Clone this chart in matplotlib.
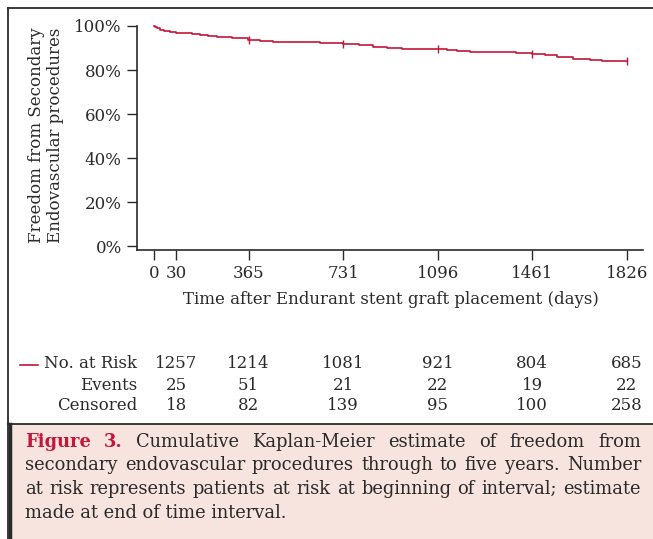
import matplotlib
matplotlib.use("Agg")
import matplotlib.pyplot as plt
from matplotlib.lines import Line2D
from matplotlib.patches import Rectangle
import matplotlib.transforms as mtransforms

# Kaplan-Meier estimate (days, % free from secondary procedures)
km_days = [0, 5, 12, 23, 40, 62, 85, 112, 145, 178, 210, 243, 300, 363, 410, 460,
           520, 641, 690, 730, 790, 846, 900, 958, 1030, 1097, 1130, 1170, 1220,
           1271, 1400, 1460, 1510, 1557, 1620, 1684, 1730, 1826]
km_surv = [100, 99.6, 99.0, 98.2, 97.8, 97.3, 97.0, 96.7, 96.3, 95.9, 95.5, 95.2,
           94.4, 93.6, 93.2, 92.9, 92.6, 92.4, 92.1, 91.8, 91.2, 90.6, 90.1, 89.7,
           89.5, 89.4, 89.0, 88.6, 88.3, 88.0, 87.8, 87.3, 86.6, 85.8, 85.2, 84.5,
           84.1, 84.1]
censor_days = [365, 731, 1096, 1461, 1826]
censor_surv = [93.6, 91.8, 89.4, 87.3, 84.1]

# x ticks: the "30" tick sits a little right of its true spot in the original
tick_pos = [0, 85, 365, 731, 1096, 1461, 1826]
tick_labels = ["0", "30", "365", "731", "1096", "1461", "1826"]
y_ticks = [0, 20, 40, 60, 80, 100]

# number-at-risk table
table_cols = [85, 365, 731, 1096, 1461, 1826]
row_names = ["No. at Risk", "Events", "Censored"]
at_risk = [1257, 1214, 1081, 921, 804, 685]
events = [25, 51, 21, 22, 19, 22]
censored = [18, 82, 139, 95, 100, 258]

caption_lines = [
    "Cumulative Kaplan-Meier estimate of freedom from",
    "secondary endovascular procedures through to five years. Number",
    "at risk represents patients at risk at beginning of interval; estimate",
    "made at end of time interval.",
]

RED = "#c3173b"
INK = "#2a2a2a"
W, H = 653, 539
plt.rcParams["font.family"] = ["DejaVu Serif"]

fig = plt.figure(figsize=(W / 100, H / 100), dpi=100)
fig.patch.set_facecolor("white")

ax = fig.add_axes([137 / W, 1 - 250 / H, (643 - 137) / W, (250 - 26) / H])
ax.step(km_days, km_surv, where="post", color=RED, lw=1.2, clip_on=False)
ax.plot(censor_days, censor_surv, ls="none", marker="|", ms=6, mew=1.0, color=RED,
        clip_on=False)

ax.set_xlim(-66, 1889)
ax.set_ylim(-1.8, 100)
ax.set_xticks(tick_pos)
ax.set_xticklabels(tick_labels)
ax.set_yticks(y_ticks)
ax.set_yticklabels([f"{v}%" for v in y_ticks])
for s in ["top", "right"]:
    ax.spines[s].set_visible(False)
for s in ["left", "bottom"]:
    ax.spines[s].set_color(INK)
    ax.spines[s].set_linewidth(1.2)
ax.tick_params(direction="out", length=7, width=1.0, color=INK, labelsize=12,
               labelcolor=INK, pad=4)

fig.text(46 / W, 1 - 135 / H, "Freedom from Secondary\nEndovascular procedures",
         rotation=90, ha="center", va="center", fontsize=12, color=INK,
         multialignment="center", linespacing=1.15)
fig.text(391 / W, 1 - 300 / H, "Time after Endurant stent graft placement (days)",
         ha="center", va="center", fontsize=12, color=INK)

# risk table under the axis
trans = mtransforms.blended_transform_factory(ax.transData, fig.transFigure)
rows = [at_risk, events, censored]
row_y = [363, 385, 406]
for name, vals, yy in zip(row_names, rows, row_y):
    fy = 1 - yy / H
    fig.text(137 / W, fy, name, ha="right", va="center", fontsize=12, color=INK)
    for xc, v in zip(table_cols, vals):
        fig.text(xc, fy, str(v), ha="center", va="center", fontsize=12, color=INK,
                 transform=trans)
fig.add_artist(Line2D([20 / W, 38 / W], [1 - 365 / H] * 2, color=RED, lw=1.2,
                      transform=fig.transFigure))

# outer frame and caption box
fig.add_artist(Line2D([8 / W, 1], [1 - 8 / H] * 2, color=INK, lw=1.3,
                      transform=fig.transFigure))
fig.add_artist(Line2D([8 / W, 8 / W], [0, 1 - 8 / H], color=INK, lw=1.3,
                      transform=fig.transFigure))
fig.add_artist(Rectangle((9 / W, 0), 1, 1 - 424 / H, facecolor="#f8e4df",
                         edgecolor="none", transform=fig.transFigure))
fig.add_artist(Line2D([8 / W, 1], [1 - 423.5 / H] * 2, color=INK, lw=1.3,
                      transform=fig.transFigure))
fig.add_artist(Line2D([9.5 / W, 9.5 / W], [0, 1 - 423.5 / H], color=INK, lw=2.5,
                      transform=fig.transFigure))

# justified caption
renderer = fig.canvas.get_renderer()
left, right = 25, 641
baselines = [447, 470.5, 494, 517.5]
cap_size = 12.9
for i, (line, base) in enumerate(zip(caption_lines, baselines)):
    if i == len(caption_lines) - 1:
        fig.text(left / W, 1 - base / H, line, fontsize=cap_size, color=INK,
                 ha="left", va="baseline")
        continue
    words = line.split(" ")
    items = [(w, INK, "normal") for w in words]
    if i == 0:
        items = [("Figure", RED, "bold"), ("3.", RED, "bold")] + items
    texts = []
    for w, col, wt in items:
        t = fig.text(0, 1 - base / H, w, fontsize=cap_size, color=col, weight=wt,
                     ha="left", va="baseline")
        texts.append(t)
    widths = [t.get_window_extent(renderer).width for t in texts]
    gap = (right - left - sum(widths)) / (len(texts) - 1)
    x = left
    for t, wd in zip(texts, widths):
        t.set_x(x / W)
        x += wd + gap

fig.savefig("out.png", dpi=100)
